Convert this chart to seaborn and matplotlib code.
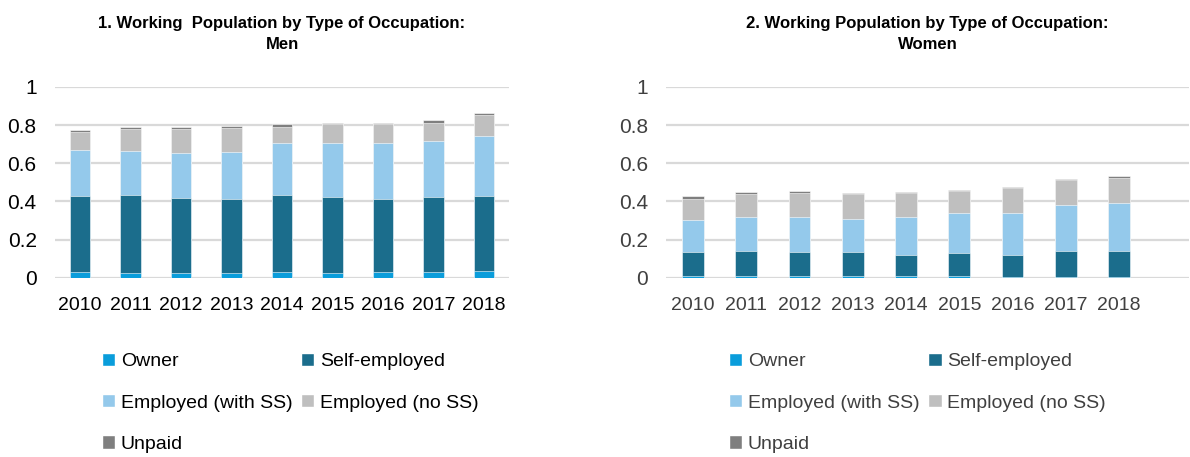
import numpy as np
import pandas as pd
import matplotlib
matplotlib.use('Agg')
import matplotlib.pyplot as plt
from matplotlib.patches import Patch
import seaborn as sns


# Data
years = ['2010', '2011', '2012', '2013', '2014', '2015', '2016', '2017', '2018']
categories = ['Owner', 'Self-employed', 'Employed (with SS)', 'Employed (no SS)', 'Unpaid']

men_owner = [0.030, 0.028, 0.028, 0.028, 0.033, 0.028, 0.033, 0.033, 0.038]
men_self = [0.399, 0.408, 0.391, 0.387, 0.402, 0.394, 0.382, 0.388, 0.390]
men_with_ss = [0.238, 0.227, 0.234, 0.245, 0.270, 0.283, 0.292, 0.293, 0.312]
men_no_ss = [0.096, 0.117, 0.124, 0.122, 0.086, 0.100, 0.096, 0.099, 0.112]
men_unpaid = [0.012, 0.011, 0.012, 0.012, 0.012, 0.008, 0.007, 0.011, 0.012]

women_owner = [0.012, 0.009, 0.012, 0.012, 0.012, 0.010, 0.007, 0.007, 0.007]
women_self = [0.122, 0.131, 0.122, 0.121, 0.108, 0.119, 0.112, 0.136, 0.131]
women_with_ss = [0.170, 0.178, 0.184, 0.174, 0.198, 0.208, 0.221, 0.236, 0.255]
women_no_ss = [0.111, 0.120, 0.125, 0.131, 0.125, 0.117, 0.129, 0.132, 0.132]
women_unpaid = [0.013, 0.012, 0.012, 0.007, 0.006, 0.007, 0.007, 0.006, 0.007]

colors = ['#0a9ddb', '#1b6d8c', '#94c9eb', '#bfbfbf', '#7f7f7f']

sns.set_style('white')
plt.rcParams['font.family'] = ['Liberation Sans', 'DejaVu Sans']

fig = plt.figure(figsize=(11.9, 4.57), dpi=100)
ax1 = fig.add_axes([0.046, 0.392, 0.382, 0.418])
ax2 = fig.add_axes([0.560, 0.392, 0.439, 0.418])


def stacked(ax, series, title, xmax, txt):
    df = pd.DataFrame(dict(zip(categories, series)), index=years)
    cum = df.cumsum(axis=1)
    # draw tallest layer first so lower layers sit on top
    for cat, col in reversed(list(zip(categories, colors))):
        sns.barplot(x=years, y=cum[cat].values, color=col, width=0.41,
                    saturation=1, ax=ax, edgecolor='white', linewidth=0.4)
    ax.set_ylim(0, 1)
    ax.set_xlim(-0.5, xmax)
    ax.set_yticks([0, 0.2, 0.4, 0.6, 0.8, 1])
    ax.set_yticklabels(['0', '0.2', '0.4', '0.6', '0.8', '1'])
    ax.yaxis.grid(True, color='#d9d9d9', linewidth=1.6)
    ax.set_axisbelow(True)
    for s in ax.spines.values():
        s.set_visible(False)
    ax.tick_params(axis='y', length=0, labelsize=15, colors=txt, pad=13)
    ax.tick_params(axis='x', length=0, labelsize=14, colors=txt, pad=14)
    ax.set_title(title, fontsize=12, fontweight='bold', pad=27,
                 linespacing=1.55, color='black')
    ax.set_xlabel('')
    ax.set_ylabel('')


stacked(ax1, [men_owner, men_self, men_with_ss, men_no_ss, men_unpaid],
        '1. Working  Population by Type of Occupation:\nMen', 8.5, 'black')
stacked(ax2, [women_owner, women_self, women_with_ss, women_no_ss, women_unpaid],
        '2. Working Population by Type of Occupation:\nWomen', 9.31, '#404040')

handles = [Patch(facecolor=c, label=l) for c, l in zip(colors, categories)]
order = [0, 2, 4, 1, 3]
for x0, txt in [(0.079, 'black'), (0.606, '#404040')]:
    fig.legend([handles[i] for i in order], [categories[i] for i in order],
               loc='upper left', bbox_to_anchor=(x0, 0.245), ncol=2, frameon=False,
               fontsize=14, handlelength=0.68, handleheight=0.68, handletextpad=0.3,
               columnspacing=0.45, labelspacing=1.22, borderaxespad=0,
               labelcolor=txt)

fig.savefig('out.png', dpi=100)
